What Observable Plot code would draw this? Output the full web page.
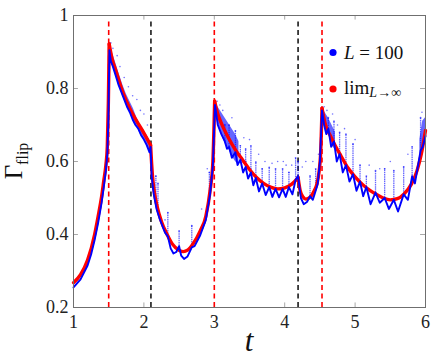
<!DOCTYPE html>
<html><head><meta charset="utf-8">
<script src="https://cdn.jsdelivr.net/npm/d3@7"></script>
<script src="https://cdn.jsdelivr.net/npm/@observablehq/plot@0.6"></script>
<style>
body{margin:0;background:#fff;}
#wrap{width:436px;height:361px;}
</style></head><body><div id="wrap"></div>
<script>
// ---- data ----
const xTicks = [1, 2, 3, 4, 5, 6];
const yTicks = [0.2, 0.4, 0.6, 0.8, 1];
const redLines = [1.5, 3.0, 4.53];
const blackLines = [2.1, 4.19];

// limit L -> infinity (red), split in segments at cusps
const redT = [1.0,1.1,1.2,1.3,1.35,1.4,1.43,1.46,1.48,1.495,1.507,
  1.507,1.55,1.6,1.7,1.8,1.9,2.0,2.095,
  2.095,2.12,2.15,2.19,2.25,2.33,2.4,2.5,2.56,2.62,2.7,2.8,2.88,2.94,2.98,3.005,
  3.005,3.05,3.1,3.2,3.3,3.4,3.5,3.6,3.7,3.8,3.9,4.0,4.1,4.19,
  4.19,4.22,4.26,4.3,4.36,4.42,4.46,4.49,4.51,4.53,
  4.53,4.58,4.65,4.7,4.8,4.9,5.0,5.1,5.2,5.3,5.4,5.5,5.6,5.7,5.8,5.88,5.94,6.0];
const redG = [0.268,0.29,0.33,0.40,0.45,0.505,0.547,0.59,0.64,0.76,0.922,
  0.922,0.88,0.85,0.79,0.745,0.71,0.678,0.645,
  0.645,0.565,0.515,0.475,0.435,0.40,0.375,0.357,0.353,0.357,0.375,0.41,0.45,0.52,0.6,0.765,
  0.765,0.73,0.705,0.665,0.632,0.605,0.578,0.556,0.54,0.53,0.525,0.528,0.538,0.556,
  0.556,0.52,0.503,0.497,0.502,0.52,0.54,0.575,0.62,0.746,
  0.746,0.70,0.67,0.65,0.615,0.582,0.558,0.538,0.522,0.51,0.50,0.495,0.498,0.512,0.538,0.575,0.62,0.685];
const redSeg = [0,0,0,0,0,0,0,0,0,0,0, 1,1,1,1,1,1,1,1,
  2,2,2,2,2,2,2,2,2,2,2,2,2,2,2,2, 3,3,3,3,3,3,3,3,3,3,3,3,3,3,
  4,4,4,4,4,4,4,4,4,4, 5,5,5,5,5,5,5,5,5,5,5,5,5,5,5,5,5,5];

// L = 100 (blue) main trace
const blueT = [1.0,1.1,1.2,1.25,1.3,1.35,1.4,1.43,1.46,1.48,1.495,1.51,
  1.53,1.56,1.6,1.64,1.68,1.72,1.76,1.8,1.84,1.88,1.92,1.96,2.0,2.04,2.08,2.095,
  2.11,2.14,2.18,2.22,2.26,2.3,2.34,2.38,2.42,2.46,2.5,2.53,2.57,2.62,2.68,2.72,2.8,2.88,2.94,2.98,3.0,3.01,
  3.05,3.1,3.15,3.18,3.21,3.25,3.30,3.33,3.37,3.41,3.445,3.48,3.52,3.555,3.59,3.635,3.68,3.73,3.78,3.825,3.87,3.92,3.97,4.015,4.06,4.11,4.155,4.19,
  4.23,4.27,4.32,4.36,4.40,4.44,4.47,4.50,4.53,
  4.56,4.59,4.62,4.66,4.70,4.74,4.78,4.825,4.87,4.92,4.97,5.02,5.07,5.115,5.16,5.22,5.29,5.35,5.42,5.48,5.55,5.61,5.69,5.75,5.81,5.85,5.93,5.96,6.0];
const blueG = [0.255,0.277,0.315,0.345,0.385,0.432,0.488,0.53,0.575,0.62,0.71,0.905,
  0.875,0.86,0.835,0.81,0.79,0.77,0.75,0.735,0.715,0.70,0.69,0.672,0.66,0.645,0.625,0.64,
  0.56,0.51,0.47,0.445,0.425,0.405,0.395,0.362,0.348,0.352,0.368,0.342,0.333,0.34,0.365,0.368,0.398,0.44,0.51,0.59,0.70,0.755,
  0.70,0.675,0.655,0.635,0.64,0.61,0.625,0.59,0.605,0.57,0.585,0.553,0.57,0.535,0.555,0.518,0.54,0.508,0.53,0.503,0.525,0.502,0.525,0.503,0.53,0.51,0.55,0.56,
  0.50,0.483,0.49,0.505,0.495,0.52,0.54,0.60,0.74,
  0.70,0.675,0.69,0.64,0.655,0.60,0.62,0.57,0.59,0.545,0.565,0.52,0.545,0.505,0.53,0.483,0.515,0.487,0.50,0.47,0.495,0.463,0.51,0.495,0.56,0.54,0.63,0.64,0.67];

// dense clouds of L=100 points (lower / upper envelope)
const bandT  = [1.51,1.55,1.6,1.65,1.7,1.75,1.8,1.85,1.9,1.95,2.0,2.05,2.09, 3.01,3.05,3.1,3.15,3.2,3.25,3.3,3.35, 4.53,4.57,4.62,4.67,4.72, 5.92,5.96,6.0];
const bandLo = [0.90,0.865,0.835,0.805,0.78,0.755,0.735,0.71,0.695,0.675,0.66,0.64,0.625, 0.75,0.70,0.675,0.65,0.635,0.615,0.60,0.59, 0.735,0.69,0.68,0.645,0.63, 0.62,0.635,0.655];
const bandHi = [0.915,0.90,0.87,0.84,0.81,0.785,0.765,0.745,0.72,0.70,0.685,0.67,0.655, 0.765,0.75,0.735,0.72,0.705,0.69,0.675,0.655, 0.75,0.735,0.72,0.70,0.68, 0.66,0.71,0.72];
const bandSeg = [0,0,0,0,0,0,0,0,0,0,0,0,0, 1,1,1,1,1,1,1,1, 2,2,2,2,2, 3,3,3];

// vertical streaks (revivals) of L=100 points
const spikeT  = [2.17,2.2,2.34,2.5,2.68,2.93, 3.15,3.21,3.30,3.37,3.445,3.52,3.59,3.68,3.78,3.87,3.97,4.06,4.155,4.19, 4.36,4.44,
  4.62,4.70,4.78,4.87,4.97,5.07,5.16,5.29,5.42,5.55,5.69,5.81,5.93];
const spikeLo = [0.49,0.46,0.395,0.368,0.365,0.50, 0.655,0.64,0.625,0.605,0.585,0.57,0.555,0.54,0.53,0.525,0.525,0.53,0.55,0.56, 0.505,0.52,
  0.69,0.655,0.62,0.59,0.565,0.545,0.53,0.515,0.50,0.495,0.51,0.56,0.63];
const spikeHi = [0.56,0.54,0.46,0.41,0.424,0.57, 0.70,0.70,0.684,0.643,0.634,0.643,0.598,0.58,0.584,0.58,0.58,0.57,0.61,0.60, 0.56,0.58,
  0.72,0.71,0.68,0.675,0.648,0.59,0.56,0.575,0.58,0.575,0.585,0.64,0.72];

// sparse isolated points
const dotT = [1.53,1.56,1.62,1.66,1.72,1.78,1.84,1.9,1.95,2.0,2.05,2.3,2.82,2.9,3.04,3.08,3.12,3.25,3.42,3.45,3.5,3.52,3.63,3.72,3.82,3.9,3.98,4.02,4.1,4.25,4.3,4.4,4.48,4.56,4.6,4.68,4.75,4.85,5.0,5.2,5.35,5.5,5.75,5.95];
const dotG = [0.925,0.91,0.89,0.86,0.83,0.805,0.78,0.77,0.74,0.73,0.70,0.44,0.47,0.58,0.765,0.755,0.74,0.72,0.665,0.60,0.66,0.58,0.62,0.60,0.595,0.60,0.60,0.59,0.59,0.585,0.60,0.60,0.62,0.75,0.74,0.73,0.70,0.69,0.66,0.59,0.58,0.60,0.62,0.735];

// ---- build tables ----
const red = redT.map((t,i)=>({t, g: redG[i], s: redSeg[i]}));
const blue = blueT.map((t,i)=>({t, g: blueG[i]}));
const band = bandT.map((t,i)=>({t, lo: bandLo[i], hi: bandHi[i], s: bandSeg[i]}));
const spikes = spikeT.map((t,i)=>({t, lo: spikeLo[i], hi: spikeHi[i]}));
const dots = dotT.map((t,i)=>({t, g: dotG[i]}));

const BLUE = "#0000ff", RED = "#ff0000";
const F = "Liberation Serif, Times New Roman, serif";

const plot = Plot.plot({
  width: 436, height: 361,
  marginLeft: 73, marginRight: 11, marginTop: 15, marginBottom: 54,
  x: {domain: [1, 6]},
  y: {domain: [0.2, 1]},
  style: {fontFamily: F, fontSize: "18px", background: "white", color: "#222"},
  marks: [
    // inward ticks on all four sides
    Plot.ruleX(xTicks, {x: d => d, y1: 0.2, y2: 0.2125, stroke: "#a8a8a8"}),
    Plot.ruleX(xTicks, {x: d => d, y1: 0.9875, y2: 1, stroke: "#a8a8a8"}),
    Plot.ruleY(yTicks, {y: d => d, x1: 1, x2: 1.07, stroke: "#a8a8a8"}),
    Plot.ruleY(yTicks, {y: d => d, x1: 5.93, x2: 6, stroke: "#a8a8a8"}),
    // dashed reference lines
    Plot.ruleX(redLines, {x: d => d, y1: 0.2, y2: 0.985, stroke: RED, strokeWidth: 1.6, strokeDasharray: "5,3.5"}),
    Plot.ruleX(blackLines, {x: d => d, y1: 0.2, y2: 0.985, stroke: "#1a1a1a", strokeWidth: 1.6, strokeDasharray: "5,3.5"}),
    // L = 100 clouds
    Plot.areaY(band, {x: "t", y1: "lo", y2: "hi", z: "s", fill: BLUE, fillOpacity: 0.6}),
    Plot.ruleX(spikes, {x: "t", y1: "lo", y2: "hi", stroke: BLUE, strokeWidth: 1.3, strokeOpacity: 0.6, strokeDasharray: "1.5,0.7"}),
    Plot.dot(spikes, {x: "t", y: "hi", r: 0.9, fill: BLUE, fillOpacity: 0.6}),
    Plot.dot(dots, {x: "t", y: "g", r: 0.8, fill: BLUE, fillOpacity: 0.55}),
    // limit curve
    Plot.line(red, {x: "t", y: "g", z: "s", stroke: RED, strokeWidth: 3.4, curve: "monotone-x"}),
    // L = 100 main trace
    Plot.line(blue, {x: "t", y: "g", stroke: BLUE, strokeWidth: 1.9, curve: "linear"}),
    Plot.frame({stroke: "#6f6f6f", strokeWidth: 1}),
    Plot.axisX(xTicks, {tickSize: 0, tickPadding: 8, fontSize: 18, label: null, tickFormat: d => String(d), fill: "#222"}),
    Plot.axisY(yTicks, {tickSize: 0, tickPadding: 5, fontSize: 18, label: null, tickFormat: d => d === 1 ? "1" : d.toFixed(1), fill: "#222"})
  ]
});

document.getElementById("wrap").appendChild(plot);

// labels and legend
const svg = d3.select(plot);
const yl = svg.append("text")
  .attr("transform", "translate(22,161) rotate(-90)")
  .attr("text-anchor", "middle")
  .style("font-family", F).style("font-size", "25px").attr("fill", "#111");
yl.append("tspan").text("Γ");
yl.append("tspan").attr("dy", 6).style("font-size", "16px").text("flip");

svg.append("text").attr("x", 249).attr("y", 351)
  .attr("text-anchor", "middle")
  .style("font-family", F).style("font-size", "31px").style("font-style", "italic")
  .attr("fill", "#111").text("t");

svg.append("circle").attr("cx", 333).attr("cy", 52.5).attr("r", 3.6).attr("fill", BLUE);
const l1 = svg.append("text").attr("x", 344).attr("y", 58.5).attr("text-anchor", "start")
  .style("font-family", F).style("font-size", "19px").attr("fill", "#111");
l1.append("tspan").style("font-style", "italic").text("L");
l1.append("tspan").text(" = 100");

svg.append("circle").attr("cx", 333).attr("cy", 89).attr("r", 3.6).attr("fill", RED);
const l2 = svg.append("text").attr("x", 344).attr("y", 93.5).attr("text-anchor", "start")
  .style("font-family", F).style("font-size", "19px").attr("fill", "#111");
l2.append("tspan").text("lim");
l2.append("tspan").attr("dy", 3.5).style("font-size", "14px").style("font-style", "italic").text("L");
l2.append("tspan").style("font-size", "14px").text("→∞");
</script>
</body></html>
